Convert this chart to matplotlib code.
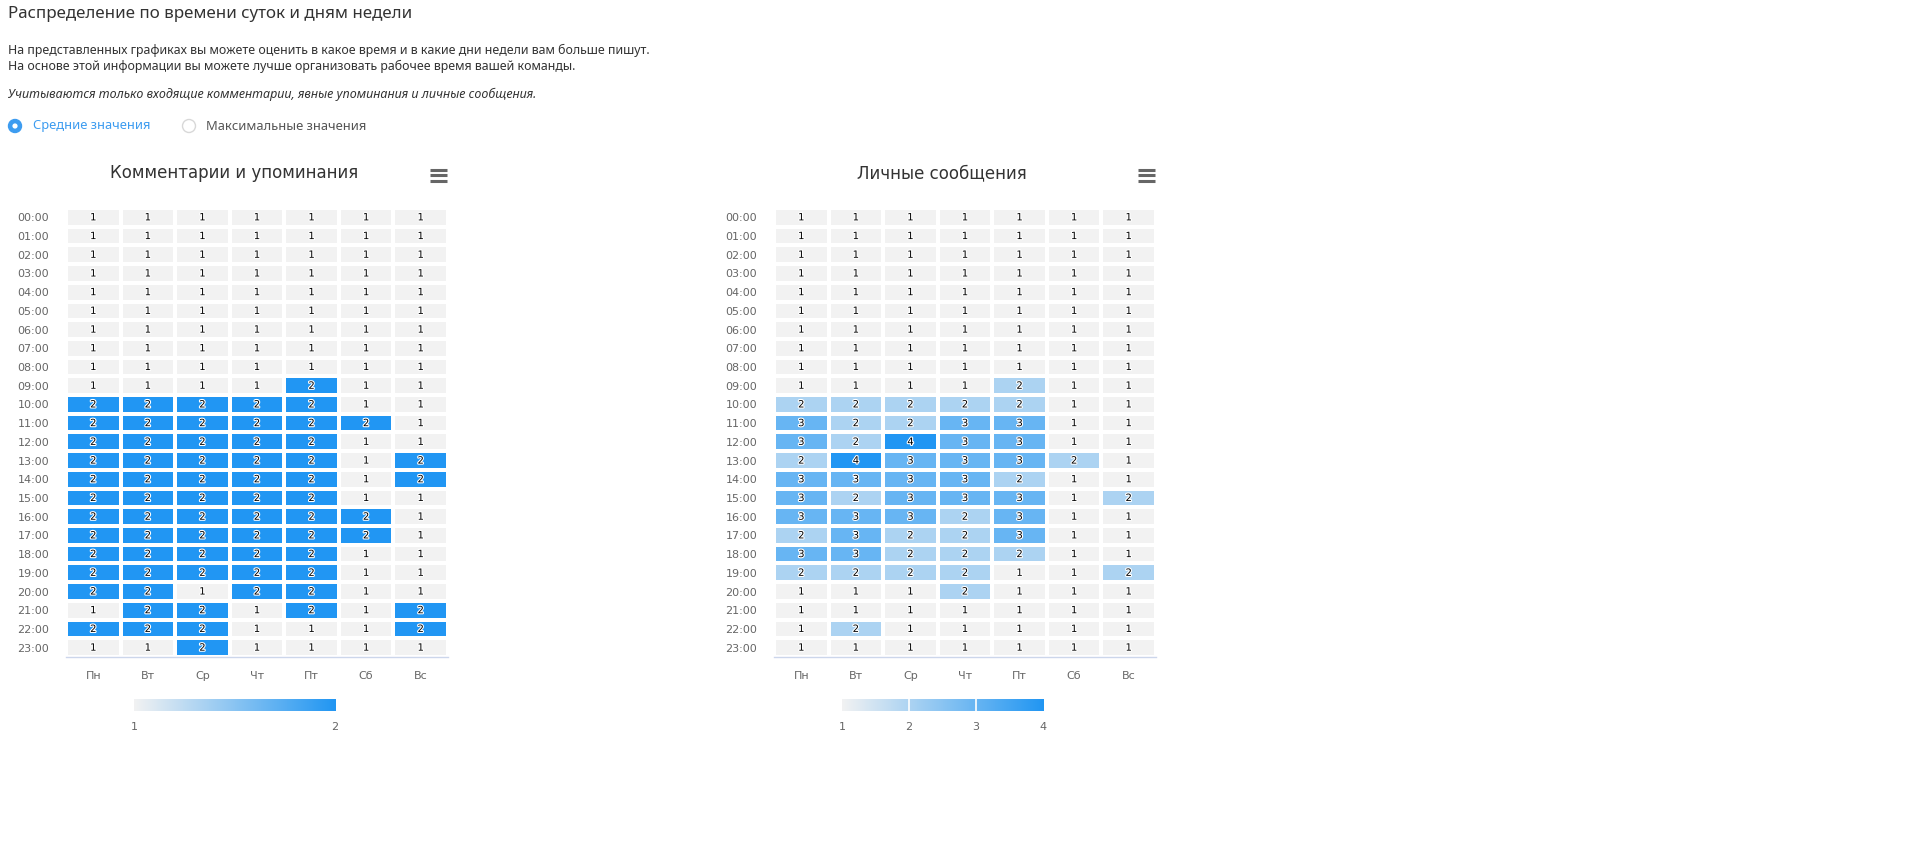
import numpy as np
import matplotlib
matplotlib.use("Agg")
import matplotlib.pyplot as plt
from matplotlib.colors import LinearSegmentedColormap
from matplotlib.patches import Circle
import matplotlib.patheffects as pe

W, H = 1912, 855

hours = [f"{h:02d}:00" for h in range(24)]
days = ["Пн", "Вт", "Ср", "Чт", "Пт", "Сб", "Вс"]

comments = [
    [1, 1, 1, 1, 1, 1, 1],
    [1, 1, 1, 1, 1, 1, 1],
    [1, 1, 1, 1, 1, 1, 1],
    [1, 1, 1, 1, 1, 1, 1],
    [1, 1, 1, 1, 1, 1, 1],
    [1, 1, 1, 1, 1, 1, 1],
    [1, 1, 1, 1, 1, 1, 1],
    [1, 1, 1, 1, 1, 1, 1],
    [1, 1, 1, 1, 1, 1, 1],
    [1, 1, 1, 1, 2, 1, 1],
    [2, 2, 2, 2, 2, 1, 1],
    [2, 2, 2, 2, 2, 2, 1],
    [2, 2, 2, 2, 2, 1, 1],
    [2, 2, 2, 2, 2, 1, 2],
    [2, 2, 2, 2, 2, 1, 2],
    [2, 2, 2, 2, 2, 1, 1],
    [2, 2, 2, 2, 2, 2, 1],
    [2, 2, 2, 2, 2, 2, 1],
    [2, 2, 2, 2, 2, 1, 1],
    [2, 2, 2, 2, 2, 1, 1],
    [2, 2, 1, 2, 2, 1, 1],
    [1, 2, 2, 1, 2, 1, 2],
    [2, 2, 2, 1, 1, 1, 2],
    [1, 1, 2, 1, 1, 1, 1],
]

messages = [
    [1, 1, 1, 1, 1, 1, 1],
    [1, 1, 1, 1, 1, 1, 1],
    [1, 1, 1, 1, 1, 1, 1],
    [1, 1, 1, 1, 1, 1, 1],
    [1, 1, 1, 1, 1, 1, 1],
    [1, 1, 1, 1, 1, 1, 1],
    [1, 1, 1, 1, 1, 1, 1],
    [1, 1, 1, 1, 1, 1, 1],
    [1, 1, 1, 1, 1, 1, 1],
    [1, 1, 1, 1, 2, 1, 1],
    [2, 2, 2, 2, 2, 1, 1],
    [3, 2, 2, 3, 3, 1, 1],
    [3, 2, 4, 3, 3, 1, 1],
    [2, 4, 3, 3, 3, 2, 1],
    [3, 3, 3, 3, 2, 1, 1],
    [3, 2, 3, 3, 3, 1, 2],
    [3, 3, 3, 2, 3, 1, 1],
    [2, 3, 2, 2, 3, 1, 1],
    [3, 3, 2, 2, 2, 1, 1],
    [2, 2, 2, 2, 1, 1, 2],
    [1, 1, 1, 2, 1, 1, 1],
    [1, 1, 1, 1, 1, 1, 1],
    [1, 2, 1, 1, 1, 1, 1],
    [1, 1, 1, 1, 1, 1, 1],
]

chart_titles = ["Комментарии и упоминания", "Личные сообщения"]

cmap = LinearSegmentedColormap.from_list("hc", ["#f2f2f2", "#2196f3"])

fig = plt.figure(figsize=(W / 100, H / 100), dpi=100)
fig.patch.set_facecolor("white")

# overlay axes in pixel coordinates (for header widgets)
ov = fig.add_axes([0, 0, 1, 1])
ov.set_xlim(0, W)
ov.set_ylim(H, 0)
ov.axis("off")
ov.set_zorder(10)
ov.patch.set_alpha(0)


def px_rect(x0, y0, x1, y1):
    return [x0 / W, 1 - y1 / H, (x1 - x0) / W, (y1 - y0) / H]


# Header texts
hdr_font = ["Noto Sans", "DejaVu Sans"]
ov.text(8, 14, "Распределение по времени суток и дням недели", fontsize=12.2,
        color="#333333", va="center", ha="left", family=hdr_font)
ov.text(8, 50, "На представленных графиках вы можете оценить в какое время и в какие дни недели вам больше пишут.",
        fontsize=8.9, color="#333333", va="center", ha="left", family=hdr_font)
ov.text(8, 66, "На основе этой информации вы можете лучше организовать рабочее время вашей команды.",
        fontsize=8.9, color="#333333", va="center", ha="left", family=hdr_font)
ov.text(8, 94, "Учитываются только входящие комментарии, явные упоминания и личные сообщения.",
        fontsize=9.0, color="#333333", va="center", ha="left", style="italic", family=hdr_font)

# Radio buttons
ov.add_patch(Circle((15, 126), 6.5, facecolor="#3d9cf0", edgecolor="#3d9cf0"))
ov.add_patch(Circle((15, 126), 2.6, facecolor="white", edgecolor="none"))
ov.text(33, 126, "Средние значения", fontsize=9.3, color="#3d9cf0",
        va="center", ha="left", family=hdr_font)
ov.add_patch(Circle((189, 126), 6.5, facecolor="white", edgecolor="#d8d8d8", linewidth=1))
ov.text(206, 126, "Максимальные значения", fontsize=9.3, color="#555555",
        va="center", ha="left", family=hdr_font)

panels = [
    dict(data=comments, x0=66, x1=448, title_x=234, menu_x=(430, 447), cb=(134, 335), vmax=2),
    dict(data=messages, x0=774, x1=1156, title_x=942, menu_x=(1138, 1155), cb=(842, 1043), vmax=4),
]

for p, title in zip(panels, chart_titles):
    data = np.array(p["data"])
    ax = fig.add_axes(px_rect(p["x0"], 208, p["x1"], 657))
    ax.pcolormesh(np.arange(len(days) + 1), np.arange(len(hours) + 1), data, cmap=cmap,
                  vmin=1, vmax=p["vmax"], edgecolors="white", linewidth=1.5)
    ax.set_xlim(0, len(days))
    ax.set_ylim(len(hours), 0)
    ax.set_xticks(np.arange(len(days)) + 0.5)
    ax.set_xticklabels(days)
    ax.set_yticks(np.arange(len(hours)) + 0.5)
    ax.set_yticklabels(hours)
    ax.tick_params(length=0, labelsize=8, labelcolor="#666666", pad=12)
    ax.tick_params(axis="x", pad=10)
    for s in ["top", "left", "right"]:
        ax.spines[s].set_visible(False)
    ax.spines["bottom"].set_color("#ccd6eb")
    ax.spines["bottom"].set_linewidth(1)
    for i in range(len(hours)):
        for j in range(len(days)):
            ax.text(j + 0.5, i + 0.5, str(data[i, j]), ha="center", va="center",
                    fontsize=7.2, color="#000000",
                    path_effects=[pe.withStroke(linewidth=1.6, foreground="white")])

    # chart title
    ov.text(p["title_x"], 173, title, fontsize=12, color="#333333",
            ha="center", va="center")
    # menu icon
    for yy in (170, 175.5, 181):
        ov.plot([p["menu_x"][0], p["menu_x"][1]], [yy, yy], color="#666666",
                linewidth=2.2, solid_capstyle="butt")

    # colorbar
    cax = fig.add_axes(px_rect(p["cb"][0], 699, p["cb"][1], 711))
    grad = np.linspace(1, p["vmax"], 256).reshape(1, -1)
    cax.imshow(grad, cmap=cmap, vmin=1, vmax=p["vmax"], aspect="auto",
               extent=[1, p["vmax"], 0, 1])
    ticks = list(range(1, p["vmax"] + 1))
    for t in ticks[1:-1]:
        cax.axvline(t, color="white", linewidth=1.2)
    cax.set_xlim(1, p["vmax"])
    cax.set_yticks([])
    cax.set_xticks(ticks)
    cax.tick_params(length=0, labelsize=8, labelcolor="#666666", pad=8)
    for s in cax.spines.values():
        s.set_visible(False)

fig.savefig("out.png", dpi=100, facecolor="white")
